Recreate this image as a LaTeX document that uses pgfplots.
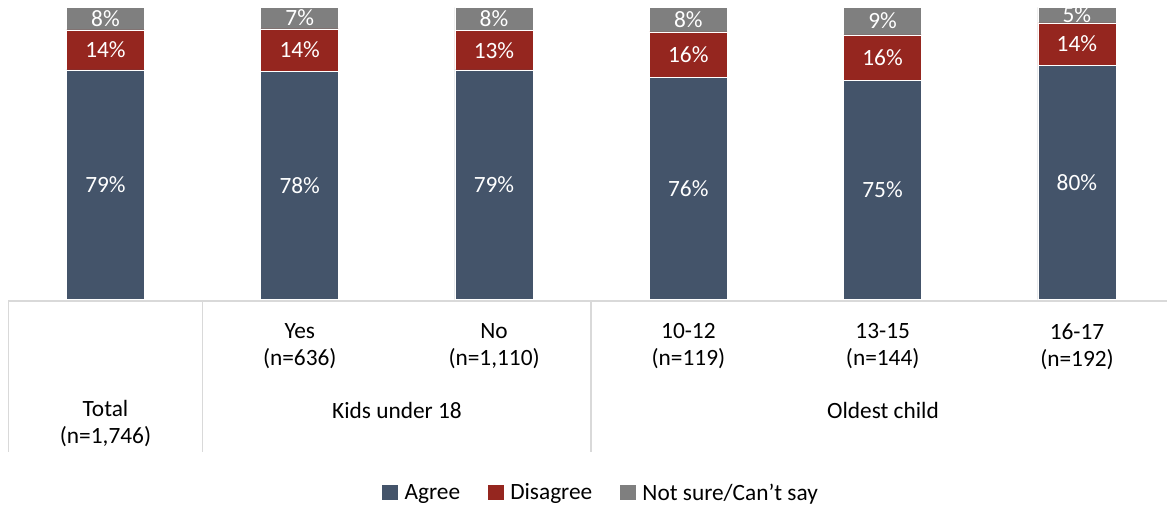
\documentclass[border=0pt]{standalone}
\usepackage{fontspec}
\setmainfont{Carlito}
\usepackage{pgfplots}
\usepackage{pgfplotstable}
\pgfplotsset{compat=1.18}
\definecolor{cAgree}{HTML}{44546A}
\definecolor{cDis}{HTML}{95261F}
\definecolor{cNs}{HTML}{7F7F7F}
\definecolor{cLine}{HTML}{D9D9D9}
\definecolor{cText}{HTML}{000000}

\pgfplotsset{sqlegend/.style={legend image code/.code={\fill[##1,draw=none] (0pt,-5.6pt) rectangle (11.6pt,5.6pt);}}}

\pgfplotstableread{
x agree dis ns
0 78.6 13.7 7.7
1 78.2 14.4 7.4
2 78.6 13.4 8.0
3 76.0 15.6 8.4
4 74.9 15.7 9.4
5 80.2 14.5 5.3
}\bars

\pgfplotstableread{
x y lab
0 39.3 79
1 39.1 78
2 39.3 79
3 38.0 76
4 37.45 75
5 40.1 80
0 85.45 14
1 85.4 14
2 85.3 13
3 83.8 16
4 82.75 16
5 87.45 14
0 96.15 8
1 96.3 7
2 96.0 8
3 95.8 8
4 95.3 9
5 97.35 5
}\labs

\newcommand{\lblfont}{\fontsize{17.5}{20.25}\selectfont}

\begin{document}
\begin{tikzpicture}
\begin{axis}[
  at={(6.225pt,-5.475pt)}, anchor=north west,
  width=869pt, height=219.15pt, scale only axis,
  xmin=-0.5, xmax=5.464, ymin=0, ymax=100,
  ybar stacked, bar width=58.5pt,
  axis lines=none,
  legend style={at={(0.512,-0.662)}, anchor=center, legend columns=3,
    draw=none, fill=none, font=\lblfont, text=cText,
    /tikz/every odd column/.append style={column sep=3pt},
    /tikz/every even column/.append style={column sep=19pt}},
]
\addplot[fill=cAgree, draw=white, line width=0.4pt, sqlegend]
  table[x=x,y=agree]{\bars};
\addplot[fill=cDis, draw=white, line width=0.4pt, sqlegend]
  table[x=x,y=dis]{\bars};
\addplot[fill=cNs, draw=white, line width=0.4pt, sqlegend]
  table[x=x,y=ns]{\bars};
\legend{Agree,Disagree,Not sure/Can’t say}
\end{axis}
\begin{axis}[
  at={(6.225pt,-5.475pt)}, anchor=north west,
  width=869pt, height=219.15pt, scale only axis,
  xmin=-0.5, xmax=5.464, ymin=0, ymax=100,
  axis lines=none,
]
\addplot[draw=none, mark=none, point meta=explicit symbolic,
  nodes near coords={\pgfplotspointmeta\%},
  every node near coord/.append style={anchor=center, text=white, font=\lblfont}]
  table[x=x,y=y,meta=lab]{\labs};
\end{axis}
\begin{scope}[x=0.75pt,y=-0.75pt]
\useasboundingbox (0,0) rectangle (1167,508);
\draw[cLine, line width=1.1pt] (8.3,301) -- (1167,301);
\draw[cLine, line width=1.1pt] (8.3,301) -- (8.3,452);
\draw[cLine, line width=1.1pt] (202.6,301) -- (202.6,452);
\draw[cLine, line width=1.1pt] (591.2,301) -- (591.2,452);
\begin{scope}[every node/.style={align=center, font=\lblfont, text=cText, inner sep=0pt}]
\node at (299.8,346.5) {Yes\\(n=636)};
\node at (494.1,346.5) {No\\(n=1,110)};
\node at (688.4,346.5) {10-12\\(n=119)};
\node at (882.7,346.5) {13-15\\(n=144)};
\node at (1077,346.5) {16-17\\(n=192)};
\node at (105.5,423.5) {Total\\(n=1,746)};
\node at (397,410) {Kids under 18};
\node at (883,410) {Oldest child};
\end{scope}
\end{scope}
\end{tikzpicture}
\end{document}
